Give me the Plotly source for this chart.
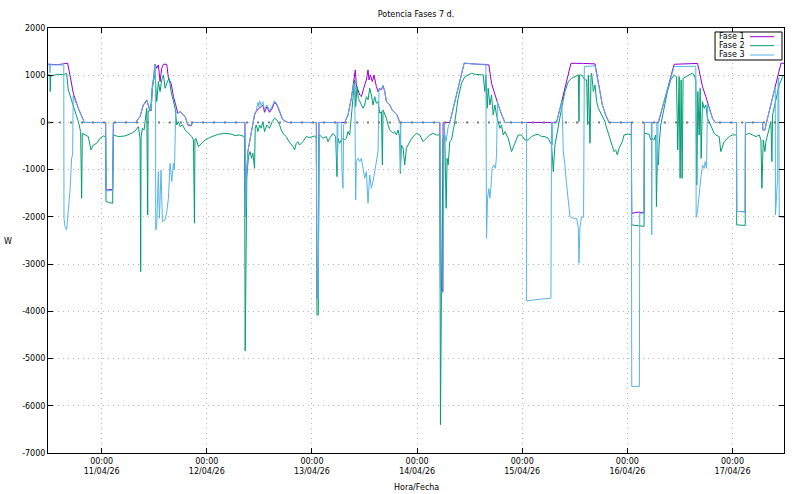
import pandas as pd
import plotly.graph_objects as go

BASE = "2026-04-11 00:00"
RANGE_H = [-12.25, 155.75]
tick_hours = [0, 24, 48, 72, 96, 120, 144]
tick_dates = ["11/04/26", "12/04/26", "13/04/26", "14/04/26", "15/04/26", "16/04/26", "17/04/26"]
y_ticks = [2000, 1000, 0, -1000, -2000, -3000, -4000, -5000, -6000, -7000]
series_names = ["Fase 1", "Fase 2", "Fase 3"]
series_colors = ["#9400D3", "#009E73", "#56B4E9"]

# Fase 1 (hours since 11/04/26 00:00, W)
f1_h = [-12.3, -9.9, -8.76, -8.0, -7.77, -7.24, -6.48, -5.33, -3.96, 0.91,
        0.99, 2.51, 2.67, 7.77, 8.76, 9.52, 9.90, 10.29, 10.82, 11.28,
        11.58, 12.19, 12.57, 12.95, 13.33, 13.71, 14.10, 14.86, 15.24, 15.85,
        16.38, 16.91, 17.37, 17.90, 18.44, 19.05, 19.66, 20.42, 20.72, 32.69,
        32.84, 32.99, 33.37, 33.75, 34.13, 34.51, 34.90, 35.28, 35.89, 36.42,
        36.80, 37.18, 37.71, 38.32, 38.93, 39.47, 40.0, 40.61, 41.22, 41.75,
        42.51, 49.0, 49.14, 49.45, 49.60, 55.47, 56.23, 56.99, 57.52, 57.90,
        58.13, 58.51, 58.90, 59.28, 59.66, 60.04, 60.42, 60.80, 61.03, 61.33,
        61.79, 62.17, 62.70, 63.09, 63.47, 63.85, 64.23, 64.61, 64.99, 65.75,
        66.29, 66.90, 67.43, 68.04, 77.18, 77.33, 77.87, 77.94, 79.47, 82.74,
        85.0, 88.38, 88.99, 89.75, 90.51, 91.28, 92.04, 103.85, 107.12, 110.0,
        112.61, 113.75, 114.29, 115.05, 115.81, 120.91, 120.99, 122.5, 123.81, 123.89,
        127.09, 130.67, 133.0, 136.0, 136.38, 137.14, 137.90, 138.67, 139.43, 140.04,
        144.91, 144.95, 146.90, 146.95, 150.86, 150.9, 151.39, 151.62, 155.05, 155.8]
f1_w = [1232, 1225, 1240, 1250, 1255, 1006, 618, 300, 0, 0,
        -1430, -1420, 0, 0, 124, 370, 406, 476, 300, 244,
        724, 1238, 1147, 1218, 865, 1147, 1232, 1232, 935, 830,
        547, 370, 194, 230, 173, 124, -53, -74, 0, 0,
        -2000, -1324, -618, -406, -265, -53, 159, 230, 300, 335,
        370, 215, 335, 215, 300, 427, 370, 230, 74, 32,
        0, 0, -3724, -3724, 0, 0, 159, 512, 830, 1112,
        794, 688, 582, 547, 688, 794, 900, 1112, 900, 1006,
        865, 1006, 759, 653, 724, 688, 780, 653, 441, 370,
        265, 215, 159, 0, 0, -3440, -3580, 0, 0, 1253,
        1240, 1218, 830, 582, 370, 173, 0, 0, 1253, 1250,
        1240, 653, 370, 159, 0, 0, -1924, -1900, -1910, 0,
        0, 1232, 1245, 1250, 1100, 759, 547, 300, 88, 0,
        0, -1885, -1890, 0, 0, -159, -159, -53, 1253, 1253]

# Fase 2
f2_h = [-12.3, -11.81, -11.73, -11.6, -11.43, -9.90, -8.76, -8.0, -7.62, -6.86,
        -6.10, -5.33, -4.80, -4.57, -4.42, -3.81, -3.05, -2.44, -1.90, -1.14,
        -0.38, 0.38, 0.91, 0.99, 2.51, 2.67, 3.81, 5.33, 6.86, 7.62,
        8.38, 8.76, 8.91, 9.0, 9.30, 9.68, 9.90, 10.29, 10.51, 10.6,
        10.82, 11.28, 11.58, 12.19, 12.57, 12.95, 13.33, 13.71, 14.10, 14.48,
        14.86, 15.39, 15.85, 16.38, 16.76, 17.14, 17.52, 17.90, 18.44, 19.05,
        19.81, 20.57, 20.95, 21.18, 21.3, 21.49, 22.10, 22.86, 23.62, 24.38,
        25.14, 26.67, 28.19, 29.71, 30.48, 31.47, 32.61, 32.76, 32.99, 33.14,
        33.52, 33.90, 34.21, 34.51, 34.90, 35.05, 35.28, 35.66, 36.04, 36.42,
        36.80, 37.18, 37.71, 38.32, 38.93, 39.47, 40.0, 40.61, 40.99, 41.37,
        42.13, 42.74, 43.66, 44.04, 44.42, 44.80, 45.18, 45.94, 46.70, 47.47,
        48.61, 48.99, 49.14, 49.45, 49.60, 49.75, 50.51, 51.28, 51.66, 52.04,
        52.80, 53.41, 53.71, 53.94, 54.32, 54.70, 55.09, 55.47, 55.85, 56.23,
        56.61, 56.99, 57.37, 57.75, 57.98, 58.29, 58.59, 59.05, 59.66, 60.04,
        60.42, 60.80, 61.18, 61.56, 61.94, 62.32, 62.70, 63.09, 63.47, 63.85,
        64.08, 64.23, 64.61, 64.99, 65.37, 65.75, 66.13, 66.51, 66.90, 67.28,
        67.66, 68.04, 68.19, 68.42, 68.80, 69.18, 69.56, 70.32, 71.09, 71.85,
        72.61, 73.37, 74.13, 74.90, 75.66, 76.42, 77.18, 77.33, 77.56, 77.94,
        78.32, 78.63, 78.86, 79.09, 79.47, 79.85, 80.61, 81.37, 82.13, 82.90,
        83.66, 84.42, 85.18, 86.32, 87.09, 87.47, 87.70, 88.0, 88.23, 88.61,
        88.99, 89.37, 89.75, 90.13, 90.51, 90.90, 91.28, 91.66, 92.04, 92.80,
        93.56, 93.94, 94.32, 95.09, 95.85, 96.61, 97.37, 98.13, 98.90, 99.66,
        100.42, 101.18, 101.94, 102.70, 103.09, 103.47, 103.85, 104.23, 104.99, 105.75,
        106.51, 107.28, 108.04, 108.80, 108.95, 109.05, 109.56, 110.32, 110.70, 110.93,
        111.09, 111.47, 111.70, 111.85, 112.23, 112.61, 112.99, 113.37, 114.13, 114.90,
        115.05, 115.81, 116.57, 116.95, 117.33, 117.71, 118.10, 118.48, 118.86, 119.24,
        120.0, 120.91, 120.99, 123.81, 123.89, 124.95, 125.33, 125.71, 126.10, 126.48,
        126.63, 126.86, 127.09, 127.24, 127.62, 128.38, 129.14, 129.90, 130.67, 131.20,
        131.50, 131.81, 132.04, 132.27, 132.50, 132.72, 133.33, 134.10, 134.86, 135.24,
        135.62, 135.85, 136.08, 136.38, 136.61, 136.84, 137.14, 137.52, 137.90, 138.29,
        138.67, 139.05, 139.81, 140.19, 140.95, 141.33, 141.71, 142.10, 142.48, 143.24,
        144.0, 144.91, 144.95, 146.90, 146.95, 147.81, 148.57, 149.33, 150.10, 150.48,
        150.70, 151.01, 151.39, 151.62, 152.0, 152.38, 152.76, 152.99, 153.14, 153.90,
        154.67, 155.43, 155.8]
f2_w = [1006, 1006, 653, 1000, 990, 1020, 1010, 1040, 688, 477,
        265, 18, -194, -1606, -230, -265, -300, -582, -477, -441,
        -335, -286, -300, -1677, -1712, -265, -300, -286, -230, -180,
        -88, -335, -3159, -300, -124, -160, 18, 300, -1960, 240,
        230, 406, 794, 1006, 441, 865, 653, 900, 1006, 724,
        830, 935, 653, 406, 300, -53, 18, -88, -53, -159,
        -230, -300, -371, -2135, -360, -335, -512, -441, -371, -335,
        -300, -250, -230, -250, -280, -265, -300, -4840, -2100, -1112,
        -724, -618, -759, -650, -971, -124, -53, -194, -53, -124,
        18, -194, -53, -124, 18, 88, 53, -53, -159, -230,
        -300, -406, -512, -582, -441, -406, -477, -406, -300, -320,
        -286, -335, -4077, -4077, -300, -265, -335, -300, -406, -335,
        -230, -300, -1147, -335, -441, -371, -335, -371, -335, -194,
        -265, 159, 653, 900, 335, 759, 512, 406, 300, 370,
        547, 477, 724, 582, 370, 547, 406, 441, 194, 230,
        -900, 265, 194, 88, -53, -159, -194, -230, -194, -265,
        -159, -335, -1077, -477, -547, -900, -547, -406, -300, -230,
        -265, -406, -335, -265, -230, -265, -265, -6400, -3580, -335,
        -265, -1818, -759, -900, -406, -371, 18, 512, 830, 971,
        1006, 1041, 1020, 1006, 1006, 653, 1006, 300, 724, 370,
        582, 159, 370, 159, 18, -124, -53, -265, -194, -335,
        -618, -512, -441, -265, -265, -371, -371, -300, -265, -250,
        -300, -300, -335, -477, -1041, -477, -265, -124, 300, 653,
        865, 935, 971, 1006, 18, 1006, 1006, 900, 900, -53,
        1006, -441, 1006, 1041, 653, 794, 441, 300, 159, 18,
        -53, -265, -477, -618, -582, -688, -547, -477, -406, -265,
        -250, -250, -2170, -2200, -230, -250, -371, -335, -371, -265,
        -1783, -618, -900, -477, -53, 300, 653, 900, 1006, 971,
        -582, 971, -1182, 900, -1182, 935, 971, 1006, 1041, 1006,
        900, -1324, 653, -265, 724, -759, 441, 300, 370, 88,
        18, -53, -230, -265, -300, -618, -512, -406, -371, -300,
        -265, -265, -2170, -2180, -265, -230, -265, -300, -265, -371,
        -1394, -371, -618, -406, -265, -124, 18, -830, 159, 477,
        794, 971, 1000]

# Fase 3
f3_h = [-12.3, -11.85, -11.81, -11.75, -8.76, -8.65, -8.6, -8.38, -8.0, -7.62,
        -7.24, -6.86, -6.63, -6.5, -5.33, -3.96, 0.91, 0.99, 2.51, 2.67,
        7.77, 8.76, 9.52, 10.29, 10.82, 11.28, 11.58, 12.19, 12.30, 12.34,
        12.57, 12.95, 13.18, 13.56, 13.87, 14.48, 14.86, 15.24, 15.62, 16.0,
        16.38, 16.61, 16.91, 17.37, 17.90, 18.44, 19.05, 19.66, 20.42, 20.72,
        32.69, 32.84, 32.99, 33.37, 33.75, 34.13, 34.51, 34.90, 35.28, 35.66,
        35.89, 36.04, 36.42, 36.80, 37.18, 37.71, 38.32, 38.93, 39.47, 40.0,
        40.61, 41.22, 41.75, 42.51, 49.0, 49.14, 49.45, 49.60, 53.71, 53.79,
        53.94, 54.70, 54.86, 55.09, 55.24, 55.47, 56.23, 56.99, 57.52, 57.75,
        57.98, 58.13, 58.51, 58.90, 59.28, 59.66, 60.04, 60.42, 60.80, 61.18,
        61.56, 61.94, 62.32, 62.70, 63.09, 63.31, 63.85, 64.23, 64.61, 64.99,
        65.75, 66.29, 66.90, 67.43, 68.04, 68.15, 68.19, 68.3, 77.18, 77.33,
        77.94, 78.17, 78.32, 78.63, 79.09, 79.47, 82.74, 85.0, 87.70, 87.85,
        88.08, 88.38, 88.61, 88.84, 89.14, 89.52, 89.90, 90.13, 90.36, 90.51,
        91.28, 92.04, 96.99, 97.0, 100.42, 102.55, 102.70, 102.86, 103.0, 103.85,
        104.99, 105.14, 105.37, 105.75, 106.13, 106.51, 106.90, 107.66, 108.42, 108.80,
        108.95, 109.18, 109.56, 110.0, 110.17, 112.61, 113.75, 114.29, 115.05, 115.81,
        120.91, 120.99, 122.74, 122.82, 123.81, 123.89, 125.5, 125.56, 125.65, 126.7,
        126.86, 127.0, 130.67, 135.62, 135.7, 136.0, 136.38, 136.76, 137.14, 137.52,
        137.75, 138.06, 138.29, 138.67, 139.43, 140.04, 144.91, 144.95, 146.90, 146.95,
        150.86, 150.9, 151.39, 151.62, 153.52, 153.75, 153.8, 154.29, 154.4, 154.55,
        154.67, 155.8]
f3_w = [1240, 1230, 1050, 1220, 1218, 1200, -2030, -2206, -2277, -1889,
        -1465, -759, -688, 560, 300, 0, 0, -1450, -1440, 0,
        0, 124, 380, 480, 310, 250, 724, 1238, 1200, -2277,
        -2170, -1041, -2030, -1006, -2100, -2065, -1889, -1606, -865, -1253,
        -865, -1006, 230, 194, 240, 173, 124, -40, -60, 0,
        0, -2000, -1324, -618, -406, -265, -53, 180, 250, 420,
        330, 460, 360, 440, 260, 370, 250, 340, 460, 390,
        250, 90, 40, 0, 0, -3724, -3724, 0, 0, -900,
        0, 0, -1041, -1394, -53, 0, 159, 512, 830, 800,
        -1642, -830, -759, -830, -759, -971, -1182, -1041, -1712, -1112,
        -1394, -1253, -1041, -830, -618, 700, 700, 790, 660, 450,
        380, 270, 215, 159, 0, 0, -1041, 0, 0, -3580,
        -3600, 0, -265, -400, -100, 0, 1260, 1235, 1232, -2453,
        -1606, -1400, -1606, -1394, -971, -900, -971, -688, 441, 370,
        173, 0, 0, -3780, -3738, -3724, 0, -477, 0, 0,
        437, 159, -618, -900, -1324, -1677, -1995, -2030, -2030, -2241,
        -2982, -2206, -1995, -2010, 1183, 1200, 653, 370, 159, 0,
        0, -5590, -5590, -1924, -1920, 0, 0, -2382, 0, 0,
        -1041, 0, 1183, 1190, -2014, -1885, -1465, -1182, -900, -971,
        -830, -971, 400, 300, 88, 0, 0, -1885, -1890, 0,
        0, -159, -159, -53, 670, 750, -1960, -1182, 900, 950,
        -1995, -2014]

assert len(f1_h) == len(f1_w) and len(f2_h) == len(f2_w) and len(f3_h) == len(f3_w)


def to_time(hours):
    return pd.Timestamp(BASE) + pd.to_timedelta(pd.Series(hours, dtype=float), unit="h")


FONT = "DejaVu Sans"
fig = go.Figure()
for name, hh, ww, col in zip(series_names, [f1_h, f2_h, f3_h], [f1_w, f2_w, f3_w], series_colors):
    fig.add_trace(go.Scatter(x=to_time(hh), y=ww, mode="lines", name=name,
                             line=dict(color=col, width=1), showlegend=False))

grid = dict(showgrid=True, gridcolor="#b4b4b4", gridwidth=1, griddash="1px,4px",
            zeroline=False, showline=True, linecolor="black", linewidth=1,
            ticks="inside", ticklen=5, tickcolor="black", mirror="ticks",
            tickfont=dict(family=FONT, size=8, color="black"))

xr = to_time(RANGE_H)
fig.update_xaxes(type="date", range=[xr.iloc[0], xr.iloc[1]],
                 tickvals=list(to_time(tick_hours)),
                 ticktext=["00:00<br>" + d for d in tick_dates], **grid)
fig.update_yaxes(range=[y_ticks[-1], y_ticks[0]], tickvals=y_ticks,
                 ticktext=[str(v) for v in y_ticks], **grid)

# gnuplot-style zero axis (dotted, drawn in front)
fig.add_shape(type="line", xref="paper", x0=0, x1=1, yref="y", y0=0, y1=0,
              line=dict(color="#7a7a7a", width=2, dash="2px,9px"), layer="above")

# legend box, gnuplot style (text then sample)
fig.add_shape(type="rect", xref="paper", yref="paper", x0=0.9063, x1=0.9973,
              y0=0.9247, y1=0.9906, line=dict(color="black", width=1),
              fillcolor="white", layer="above")
rows_y = [0.9795, 0.9584, 0.9365]
for name, col, yy in zip(series_names, series_colors, rows_y):
    fig.add_annotation(xref="paper", yref="paper", x=0.9497, y=yy, text=name,
                       showarrow=False, xanchor="right", yanchor="middle",
                       font=dict(family=FONT, size=8, color="black"))
    fig.add_shape(type="line", xref="paper", yref="paper", x0=0.9538, x1=0.9864,
                  y0=yy, y1=yy, line=dict(color=col, width=1), layer="above")

fig.add_annotation(xref="paper", yref="paper", x=0.5, y=-0.08, text="Hora/Fecha",
                   showarrow=False, xanchor="center", yanchor="middle",
                   font=dict(family=FONT, size=8, color="black"))
fig.add_annotation(xref="paper", yref="paper", x=-0.0543, y=0.4988, text="W",
                   showarrow=False, xanchor="center", yanchor="middle",
                   font=dict(family=FONT, size=8, color="black"))

fig.update_layout(
    width=800, height=494,
    margin=dict(l=48, r=16, t=28, b=41),
    paper_bgcolor="white", plot_bgcolor="white",
    font=dict(family=FONT, size=8, color="black"),
    title=dict(text="Potencia Fases 7 d.", x=0.52, xanchor="center",
               y=1 - 14 / 494, yanchor="middle", yref="container",
               font=dict(family=FONT, size=8, color="black")),
    showlegend=False,
)

fig.write_html("out.html", config={"displayModeBar": False},
               post_script="document.body.style.margin='0px';document.body.style.overflow='hidden';")
